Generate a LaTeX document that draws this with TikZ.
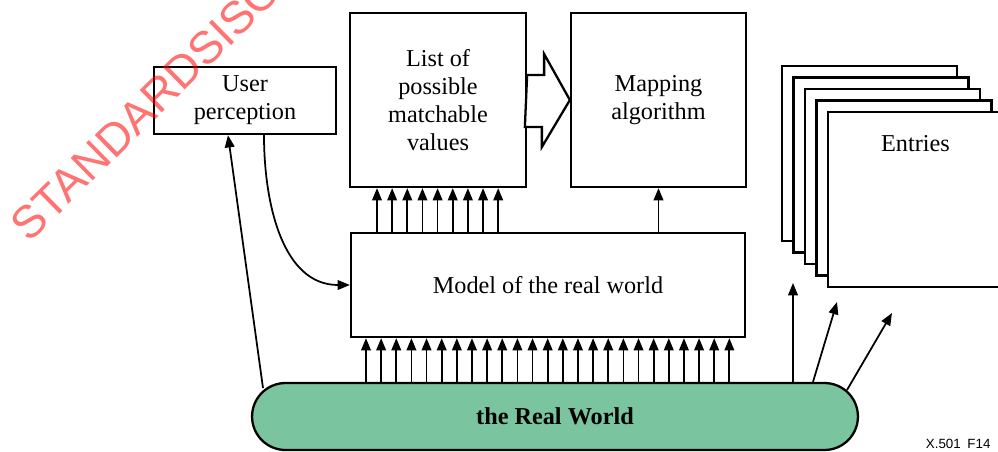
\documentclass[tikz,border=0pt]{standalone}
\usepackage{fontspec}
\setmainfont{Liberation Serif}
\newfontfamily\labelsans{Liberation Sans}
\usetikzlibrary{arrows.meta, positioning, shapes.misc}

\definecolor{worldgreen}{RGB}{122,196,160}

\begin{document}
\begin{tikzpicture}[
            x = 0.02cm, y = -0.02cm, % one unit is one pixel of the drawing
            > = {Triangle[width=5.5pt,length=7pt]}, % arrow head style
            font = \fontsize{13.8}{15.8}\selectfont,
            line width = 1pt % line style
        ]

        \tikzstyle{box}=[
            draw = black,
            line width = 1.3pt,
            fill = white,
            align = center,
            inner sep = 0pt
        ]
        \tikzstyle{block arrow}=[
            draw = black,
            line width = 1.3pt,
            fill = white,
            line join = miter
        ]

        \useasboundingbox (0,0) rectangle (998,451);

        % boxes
        \node[box, minimum width=3.64cm, minimum height=1.34cm] (user) at (245,100.5) {User\\perception};
        \node[box, minimum width=3.52cm, minimum height=3.48cm] (list) at (438,100) {List of\\possible\\matchable\\values};
        \node[box, minimum width=3.5cm, minimum height=3.48cm] (map) at (658.5,100) {Mapping\\algorithm};
        \node[box, minimum width=7.88cm, minimum height=2.08cm] (model) at (548,285) {Model of the real world};
        \node[box, rounded rectangle, fill=worldgreen, minimum width=12.12cm, minimum height=1.34cm,
              font=\bfseries\fontsize{13.8}{15.8}\selectfont] (world) at (555,416.5) {the Real World};

        % stack of entries
        \foreach \i in {1,...,5}
            \node[box, minimum width=3.5cm, minimum height=3.5cm] (entry\i)
                at ({782+11.5*(\i-1)+87.5},{66+11.5*(\i-1)+87.5}) {};
        \node[below=0.36cm of entry5.north, align=center] (entries) {Entries};

        % list of values to mapping algorithm
        \path[block arrow] (list.east) ++(0,-25) -- ++(17,0) -- ++(0,-21) -- (map.west)
            -- ++(-28,47) -- ++(0,-20) -- ++(-17,0) -- cycle;

        % model up to the list and to the mapping
        \foreach \i in {0,...,8}
            \draw[->] ({377+15.15*\i},0 |- model.north) -- ({377+15.15*\i},0 |- list.south);
        \draw[->] (map.south |- model.north) -- (map.south);

        % real world up to the model
        \foreach \i in {0,...,24}
            \draw[->] ({366+15.14*\i},0 |- world.north) -- ({366+15.14*\i},0 |- model.south);

        % real world to the user and the user to the model
        \coordinate (seen) at (263,388);
        \draw[->] (seen) -- (228,0 |- user.south);
        \draw[->] (264,0 |- user.south) to[out=-90, in=180] (model.west);

        % real world to the entries
        \coordinate (tipa) at (793,283);
        \coordinate (tipb) at (837,302);
        \coordinate (tipc) at (892,313);
        \coordinate (footc) at (847,390);
        \draw[->] (793,0 |- world.north) -- (tipa);
        \draw[->] (813,0 |- world.north) -- (tipb);
        \draw[->] (footc) -- (tipc);

        % figure number
        \node[anchor=base west, inner sep=0pt, font=\labelsans\fontsize{7.6}{9}\selectfont] (figid)
            at (925,448) {X.501\hspace{0.5em}F14};

        % watermark
        \node[rotate=44.5, anchor=base west, inner sep=0pt, text=red, opacity=.55,
              font=\labelsans\fontsize{26}{27}\selectfont] (stamp) at (29,244) {STANDARDSISO.COM};

  \end{tikzpicture}
\end{document}
